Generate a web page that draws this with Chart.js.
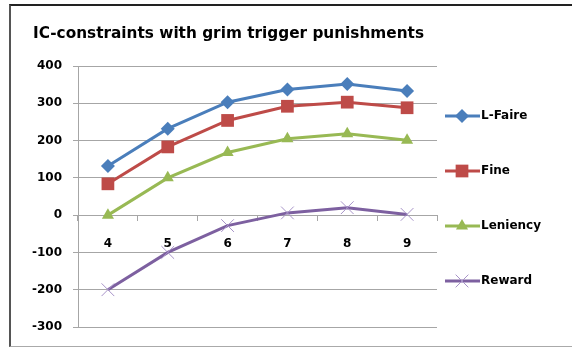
<!DOCTYPE html>
<html>
<head>
<meta charset="utf-8">
<script src="https://cdn.jsdelivr.net/npm/chart.js@4/dist/chart.umd.min.js"></script>
<style>
  body { margin: 0; background: #fff; overflow: hidden; }
  #wrap { position: relative; width: 572px; height: 347px; overflow: hidden; }
  #frame { position: absolute; left: 9px; top: 4px; width: 561px; height: 340px;
           border-left: 2px solid #555; border-top: 2px solid #222; border-bottom: 1px solid #aaa; }
  canvas { position: absolute; left: 0; top: 0; }
</style>
</head>
<body>
<div id="wrap">
  <div id="frame"></div>
  <canvas id="LineChart" width="572" height="347"></canvas>
</div>
<script>
const title = 'IC-constraints with grim trigger punishments';
const categories = ['4', '5', '6', '7', '8', '9'];
const lFaire = [132, 232, 303, 337, 352, 333];
const fine = [84, 183, 254, 292, 303, 288];
const leniency = [0, 100, 168, 205, 218, 201];
const reward = [-200, -100, -28, 6, 20, 2];
const yMin = -300, yMax = 400, yStep = 100;

const boldFont = { family: 'DejaVu Sans', weight: 'bold', size: 12 };

const seriesStyle = [
  { label: 'L-Faire', data: lFaire, color: '#4a7ebb', fill: '#4a7ebb', style: 'rectRot', radius: 7 },
  { label: 'Fine', data: fine, color: '#be4b48', fill: '#be4b48', style: 'rect', radius: 9 },
  { label: 'Leniency', data: leniency, color: '#98b954', fill: '#98b954', style: 'triangle', radius: 7 },
  { label: 'Reward', data: reward, color: '#7d60a0', fill: '#9f8ac0', style: 'crossRot', radius: 9 }
];

const datasets = seriesStyle.map(s => ({
  label: s.label,
  data: s.data,
  borderColor: s.color,
  borderWidth: 3,
  backgroundColor: s.fill,
  pointStyle: s.style,
  pointRadius: s.radius,
  pointBackgroundColor: s.fill,
  pointBorderColor: s.style === 'crossRot' ? '#a793c8' : s.fill,
  pointBorderWidth: s.style === 'crossRot' ? 1 : 0,
  tension: 0
}));

// title and Excel-like legend (line + marker)
const extras = {
  id: 'extras',
  afterDraw(chart) {
    const ctx = chart.ctx;
    ctx.save();
    ctx.fillStyle = '#000';
    ctx.font = 'bold 15.3px "DejaVu Sans"';
    ctx.textBaseline = 'middle';
    ctx.textAlign = 'left';
    ctx.fillText(title, 33, 34);

    const ys = [116, 171, 226, 281];
    chart.data.datasets.forEach((ds, i) => {
      const y = ys[i];
      ctx.strokeStyle = ds.borderColor;
      ctx.lineWidth = 3;
      ctx.beginPath();
      ctx.moveTo(445, y);
      ctx.lineTo(480, y);
      ctx.stroke();
      ctx.fillStyle = ds.pointBackgroundColor;
      ctx.strokeStyle = ds.pointBorderColor;
      ctx.lineWidth = ds.pointBorderWidth || 0.01;
      Chart.helpers.drawPoint(ctx, {
        pointStyle: ds.pointStyle,
        radius: ds.pointRadius,
        rotation: 0,
        borderWidth: ds.pointBorderWidth
      }, 462, y);
      ctx.fillStyle = '#000';
      ctx.font = 'bold 12px "DejaVu Sans"';
      ctx.fillText(ds.label, 481, y);
    });
    ctx.restore();
  }
};

new Chart(document.getElementById('LineChart'), {
  type: 'line',
  data: { labels: categories, datasets: datasets },
  options: {
    responsive: false,
    animation: false,
    layout: { padding: { left: 14, right: 135, top: 66, bottom: 20 } },
    plugins: {
      legend: { display: false },
      title: { display: false },
      tooltip: { enabled: false }
    },
    scales: {
      x: {
        position: { y: 0 },
        offset: true,
        grid: { offset: true, drawOnChartArea: false, color: '#a6a6a6', tickLength: 5 },
        border: { color: '#a6a6a6' },
        ticks: { color: '#000', font: boldFont, padding: 17, maxRotation: 0 }
      },
      y: {
        min: yMin,
        max: yMax,
        afterFit: s => { s.width = 64; },
        grid: { color: '#a6a6a6', tickLength: 5 },
        border: { color: '#a6a6a6' },
        ticks: { stepSize: yStep, color: '#000', font: boldFont, padding: 11,
                 callback: v => String(v) }
      }
    }
  },
  plugins: [extras]
});
</script>
</body>
</html>
